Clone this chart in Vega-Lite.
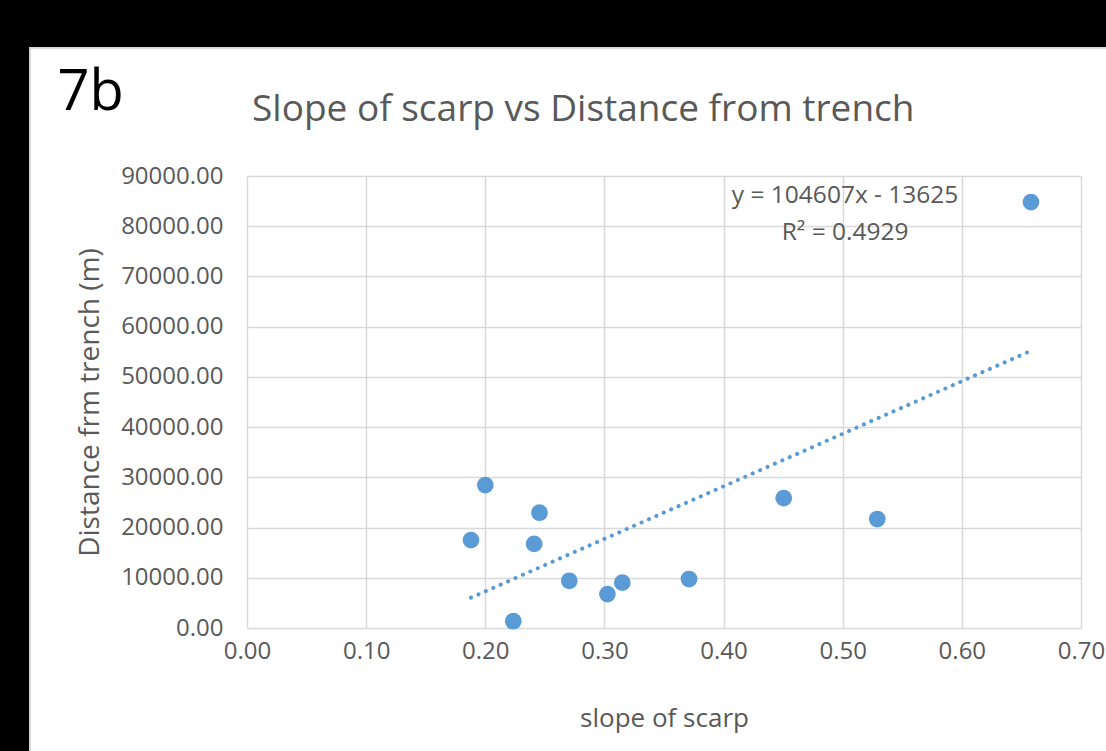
{
  "$schema": "https://vega.github.io/schema/vega-lite/v6.json",
  "width": 834,
  "height": 452,
  "autosize": {"type": "none"},
  "padding": {"left": 247, "top": 176, "right": 25, "bottom": 123},
  "background": "#ffffff",
  "config": {
    "view": {"stroke": null},
    "axis": {
      "labelFont": "Open Sans",
      "titleFont": "Open Sans",
      "labelColor": "#595959",
      "titleColor": "#595959",
      "titleFontWeight": "normal",
      "grid": true,
      "gridColor": "#d9d9d9",
      "gridWidth": 1.5,
      "domain": false,
      "ticks": false,
      "labelFlush": false
    }
  },
  "datasets": {
    "points": [
      {"slope": 0.188, "distance": 17500},
      {"slope": 0.200, "distance": 28450},
      {"slope": 0.2235, "distance": 1350},
      {"slope": 0.241, "distance": 16750},
      {"slope": 0.2455, "distance": 22950},
      {"slope": 0.2705, "distance": 9400},
      {"slope": 0.3025, "distance": 6750},
      {"slope": 0.315, "distance": 9050},
      {"slope": 0.371, "distance": 9750},
      {"slope": 0.4505, "distance": 25850},
      {"slope": 0.529, "distance": 21700},
      {"slope": 0.658, "distance": 84800}
    ],
    "trend": [
      {"slope": 0.188, "distance": 6041},
      {"slope": 0.658, "distance": 55206}
    ]
  },
  "layer": [
    {
      "data": {"name": "points"},
      "mark": {"type": "circle", "size": 280, "color": "#5b9bd5", "opacity": 1},
      "encoding": {
        "x": {
          "field": "slope",
          "type": "quantitative",
          "scale": {"domain": [0, 0.7], "nice": false},
          "axis": {
            "title": "slope of scarp",
            "format": ".2f",
            "grid": true,
            "values": [0, 0.1, 0.2, 0.3, 0.4, 0.5, 0.6, 0.7],
            "labelFontSize": 24,
            "labelPadding": 11,
            "titleFontSize": 26,
            "titlePadding": 42
          }
        },
        "y": {
          "field": "distance",
          "type": "quantitative",
          "scale": {"domain": [0, 90000], "nice": false},
          "axis": {
            "title": "Distance frm trench (m)",
            "format": ".2f",
            "grid": true,
            "values": [0, 10000, 20000, 30000, 40000, 50000, 60000, 70000, 80000, 90000],
            "labelFontSize": 24,
            "labelPadding": 24,
            "titleFontSize": 28,
            "titlePadding": 16
          }
        }
      }
    },
    {
      "data": {"values": [{}]},
      "mark": {"type": "rect", "fill": "#000000", "stroke": null},
      "encoding": {
        "x": {"datum": -0.3, "type": "quantitative"},
        "x2": {"datum": 0.8},
        "y": {"datum": 150000, "type": "quantitative"},
        "y2": {"datum": 115500}
      }
    },
    {
      "data": {"values": [{}]},
      "mark": {"type": "rect", "fill": "#000000", "stroke": null},
      "encoding": {
        "x": {"datum": -0.3, "type": "quantitative"},
        "x2": {"datum": -0.1821},
        "y": {"datum": 115500, "type": "quantitative"},
        "y2": {"datum": -40000}
      }
    },
    {
      "data": {"values": [{}]},
      "mark": {"type": "rect", "fill": null, "stroke": "#d9d9d9", "strokeWidth": 2},
      "encoding": {
        "x": {"datum": -0.1821, "type": "quantitative"},
        "x2": {"datum": 0.8},
        "y": {"datum": 115500, "type": "quantitative"},
        "y2": {"datum": -40000}
      }
    },
    {
      "data": {"name": "trend"},
      "mark": {"type": "line", "color": "#5b9bd5", "strokeWidth": 4, "strokeDash": [0.1, 8], "strokeCap": "round"},
      "encoding": {
        "x": {"field": "slope", "type": "quantitative"},
        "y": {"field": "distance", "type": "quantitative"}
      }
    },
    {
      "data": {"values": [{}]},
      "mark": {"type": "text", "font": "Open Sans", "fontSize": 24.5, "color": "#595959", "align": "center", "baseline": "middle", "lineHeight": 37},
      "encoding": {
        "x": {"datum": 0.502, "type": "quantitative"},
        "y": {"datum": 86000, "type": "quantitative"},
        "text": {"value": ["y = 104607x - 13625", "R² = 0.4929"]}
      }
    },
    {
      "data": {"values": [{}]},
      "mark": {"type": "text", "font": "Open Sans", "fontSize": 37, "color": "#595959", "align": "left", "baseline": "alphabetic"},
      "encoding": {
        "x": {"datum": 0.0042, "type": "quantitative"},
        "y": {"datum": 100950, "type": "quantitative"},
        "text": {"value": "Slope of scarp vs Distance from trench"}
      }
    },
    {
      "data": {"values": [{}]},
      "mark": {"type": "text", "font": "Open Sans", "fontSize": 56, "color": "#000000", "align": "left", "baseline": "alphabetic"},
      "encoding": {
        "x": {"datum": -0.159, "type": "quantitative"},
        "y": {"datum": 103200, "type": "quantitative"},
        "text": {"value": "7b"}
      }
    }
  ]
}
